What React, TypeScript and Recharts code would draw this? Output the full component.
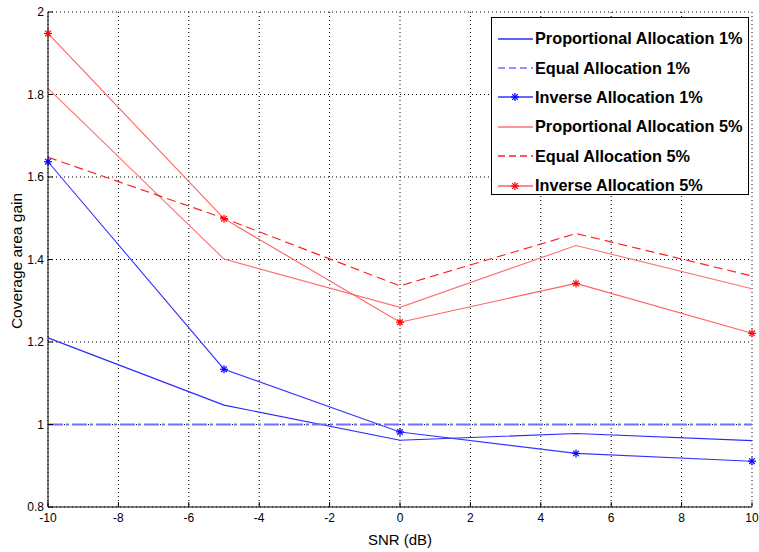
import React from 'react';
import {
  LineChart,
  Line,
  XAxis,
  YAxis,
  CartesianGrid,
  Label,
} from 'recharts';

const snr = [-10, -5, 0, 5, 10];

const proportional1 = [1.21, 1.047, 0.962, 0.978, 0.961];
const equal1 = [1.0, 1.0, 1.0, 1.0, 1.0];
const inverse1 = [1.637, 1.134, 0.982, 0.93, 0.911];
const proportional5 = [1.815, 1.401, 1.284, 1.434, 1.329];
const equal5 = [1.648, 1.5, 1.336, 1.463, 1.36];
const inverse5 = [1.948, 1.499, 1.248, 1.342, 1.221];

const xTicks = [-10, -8, -6, -4, -2, 0, 2, 4, 6, 8, 10];
const yTicks = [0.8, 1, 1.2, 1.4, 1.6, 1.8, 2];

const data = snr.map((x, i) => ({
  snr: x,
  p1: proportional1[i],
  e1: equal1[i],
  i1: inverse1[i],
  p5: proportional5[i],
  e5: equal5[i],
  i5: inverse5[i],
}));

type Series = {
  key: string;
  name: string;
  color: string;
  width: number;
  dash?: string;
  star?: string;
};

const series: Series[] = [
  { key: 'p1', name: 'Proportional Allocation 1%', color: '#2a2aff', width: 1.1 },
  { key: 'e1', name: 'Equal Allocation 1%', color: '#7070ff', width: 1.8, dash: '15 3 3 3' },
  { key: 'i1', name: 'Inverse Allocation 1%', color: '#3535ff', width: 1.1, star: '#0000ff' },
  { key: 'p5', name: 'Proportional Allocation 5%', color: '#ff7070', width: 1.1 },
  { key: 'e5', name: 'Equal Allocation 5%', color: '#ff2020', width: 1.2, dash: '9 5' },
  { key: 'i5', name: 'Inverse Allocation 5%', color: '#ff6060', width: 1.1, star: '#ff0000' },
];

const font = 'Arial, "Liberation Sans", Helvetica, sans-serif';

// asterisk marker, like MATLAB's '*'
const makeStar = (color: string) => (props: any) => {
  const { cx, cy, index } = props;
  if (cx == null || cy == null) return <g key={index} />;
  const r = 4;
  const d = r * 0.7;
  return (
    <g key={index} stroke={color} strokeWidth={1.2}>
      <line x1={cx - r} y1={cy} x2={cx + r} y2={cy} />
      <line x1={cx} y1={cy - r} x2={cx} y2={cy + r} />
      <line x1={cx - d} y1={cy - d} x2={cx + d} y2={cy + d} />
      <line x1={cx - d} y1={cy + d} x2={cx + d} y2={cy - d} />
    </g>
  );
};

const NoTick = () => <g />;

const LegendBox = () => (
  <div
    style={{
      position: 'absolute',
      left: 491,
      top: 17,
      width: 258,
      height: 178,
      border: '1px solid #000',
      background: '#fff',
      padding: '6px 0 0 6px',
      boxSizing: 'border-box',
      fontFamily: font,
    }}
  >
    {series.map((s) => (
      <div key={s.key} style={{ display: 'flex', alignItems: 'center', height: 29.4 }}>
        <svg width={36} height={12} style={{ marginRight: 1 }}>
          <line
            x1={0}
            y1={6}
            x2={35}
            y2={6}
            stroke={s.color}
            strokeWidth={1.4}
            strokeDasharray={s.dash ? '7 4' : undefined}
          />
          {s.star && makeStar(s.star)({ cx: 17, cy: 6, index: 0 })}
        </svg>
        <span style={{ fontWeight: 'bold', fontSize: 16.3, color: '#000', whiteSpace: 'nowrap' }}>
          {s.name}
        </span>
      </div>
    ))}
  </div>
);

export default function App() {
  return (
    <div style={{ position: 'absolute', left: 0, top: 0, width: 759, height: 552, background: '#fff' }}>
      <LineChart
        width={759}
        height={552}
        data={data}
        margin={{ top: 12, right: 7, left: 0, bottom: 15 }}
      >
        <CartesianGrid stroke="#000" strokeDasharray="1 3" strokeWidth={1} />
        <XAxis
          dataKey="snr"
          type="number"
          domain={[-10, 10]}
          ticks={xTicks}
          height={30}
          stroke="#000"
          tickSize={-5}
          tickMargin={11}
          tick={{ fill: '#000', fontSize: 12, fontFamily: font }}
        >
          <Label
            content={({ viewBox }: any) => (
              <text
                x={viewBox.x + viewBox.width / 2}
                y={541}
                textAnchor="middle"
                dominantBaseline="middle"
                fontSize={15}
                fontFamily={font}
                fill="#000"
              >
                SNR (dB)
              </text>
            )}
          />
        </XAxis>
        <XAxis
          xAxisId="top"
          orientation="top"
          dataKey="snr"
          type="number"
          domain={[-10, 10]}
          ticks={xTicks}
          height={0}
          stroke="#000"
          tickSize={-5}
          tick={NoTick}
        />
        <YAxis
          type="number"
          domain={[0.8, 2]}
          ticks={yTicks}
          width={48}
          stroke="#000"
          tickSize={-5}
          tickMargin={9}
          tick={{ fill: '#000', fontSize: 12, fontFamily: font }}
        >
          <Label
            content={() => (
              <text
                x={18}
                y={261}
                transform="rotate(-90 18 261)"
                textAnchor="middle"
                dominantBaseline="middle"
                fontSize={15.5}
                fontFamily={font}
                fill="#000"
              >
                Coverage area gain
              </text>
            )}
          />
        </YAxis>
        <YAxis
          yAxisId="right"
          orientation="right"
          type="number"
          domain={[0.8, 2]}
          ticks={yTicks}
          width={0}
          stroke="#777"
          tickSize={-5}
          tickLine={{ stroke: '#000' }}
          tick={NoTick}
        />
        {series.map((s) => (
          <Line
            key={s.key}
            dataKey={s.key}
            name={s.name}
            type="linear"
            stroke={s.color}
            strokeWidth={s.width}
            strokeDasharray={s.dash}
            dot={s.star ? makeStar(s.star) : false}
            activeDot={false}
            isAnimationActive={false}
          />
        ))}
      </LineChart>
      <LegendBox />
    </div>
  );
}
